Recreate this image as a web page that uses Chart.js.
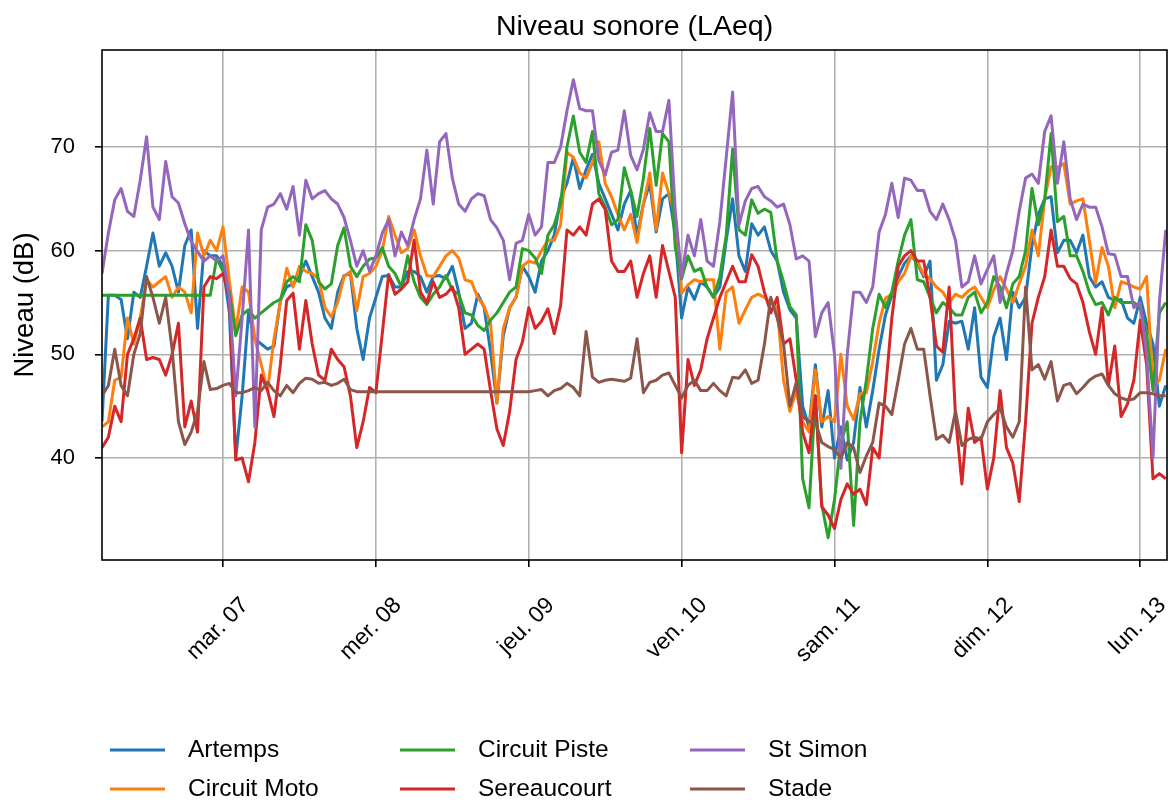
<!DOCTYPE html>
<html lang="fr">
<head>
<meta charset="UTF-8">
<title>Niveau sonore (LAeq)</title>
<script src="https://cdn.jsdelivr.net/npm/chart.js@4.4.1/dist/chart.umd.min.js"></script>
<style>
    body {
        margin: 0;
        background: #fff;
    }

    #wrap {
        width: 1170px;
        height: 803px;
    }
</style>
</head>
<body>
<div id="wrap"><canvas id="niveauChart" width="1170" height="803"></canvas></div>

<script>
    // heures comptées depuis lun. 06 00:00, un point par heure à partir de startHour
    const startHour = 5;
    const dayTicks = [24, 48, 72, 96, 120, 144, 168];
    const dayLabels = ['mar. 07', 'mer. 08', 'jeu. 09', 'ven. 10', 'sam. 11', 'dim. 12', 'lun. 13'];
    const yTicks = [40, 50, 60, 70];

    const seriesNames = ['Artemps', 'Circuit Moto', 'Circuit Piste', 'Sereaucourt', 'St Simon', 'Stade'];
    const seriesColors = ['#1f77b4', '#ff7f0e', '#2ca02c', '#d62728', '#9467bd', '#8c564b'];

    const artemps = [
        43.5, 55.7, 55.7, 55.3, 51.5, 56.0, 55.5, 58.5, 61.7, 58.5,
        59.8, 58.5, 56, 60.5, 62, 52.5, 60, 59.5, 59.5, 58.5,
        54, 40, 46, 54, 51.5, 51, 50.5, 50.8, 55.2, 56.5,
        56.8, 57.5, 59, 57.5, 56, 53.5, 52.5, 56, 57.6, 57.8,
        52.5, 49.5, 53.5, 55.5, 57.5, 57.6, 56.5, 56.5, 58, 58,
        57.5, 56, 57.5, 57.6, 57.3, 58.5, 56, 52.5, 53, 55.8,
        54.5, 50.3, 45.3, 51.8, 54.5, 55.5, 58.5, 57.5, 56, 59,
        60, 61.5, 65, 66.5, 69, 66, 67.8, 69.3, 66.5, 65,
        63.5, 62, 64.5, 65.8, 61.5, 64.5, 66.5, 61.8, 65, 65.5,
        61.5, 53.5, 56.5, 55.3, 57, 56.5, 55.5, 56.5, 61, 65,
        59.5, 58, 62.6, 61.5, 62.3, 60, 59, 56, 54.3, 53.5,
        45, 43, 49, 43, 46.5, 40, 43, 39.8, 41.5, 46.8,
        43, 46.5, 50.5, 53.8, 55.7, 57.5, 58.8, 59.5, 58.8, 57.5,
        59, 47.5, 49, 53.2, 53, 53.2, 50.5, 54.5, 47.8, 46.8,
        51.7, 53.5, 49.5, 56, 54.5, 55.5, 60.5, 63.5, 65, 65.2,
        59.8, 61, 61, 59.8, 61.5, 57.5, 56.5, 57, 55.5, 55.2,
        55.3, 53.5, 53, 55.5, 53, 51, 45, 47
    ];

    const circuitMoto = [
        43, 43.5, 47.5, 47.8, 53.5, 51, 53.5, 57.2, 56.5, 57,
        57.5, 55.5, 56.5, 56, 54, 61.7, 59.5, 61, 60, 62.3,
        57, 52.3, 56.5, 56, 51.5, 49, 46.5, 51.5, 55, 58.3,
        56.5, 58.5, 58, 57.8, 57.3, 54.5, 53.6, 55, 57.5, 58,
        54.2, 57.5, 57.8, 58.5, 60, 63.3, 61.5, 59.8, 60.2, 62,
        59.5, 57.6, 57.5, 58.5, 59.5, 60, 59.3, 57.2, 57, 55.5,
        54.6, 53, 45.3, 52.5, 54.5, 55.5, 58.5, 59, 58.8, 60,
        61, 61, 62.5, 69.5, 69, 67.5, 67, 68.5, 70.5, 66.5,
        65.2, 63.5, 62, 63.5, 60.8, 64.5, 67.5, 62, 67.5, 65.5,
        63.5, 55.9, 56.7, 57.2, 57, 57.2, 57.2, 50.5, 56, 56.5,
        53, 54.3, 55.5, 55.8, 55.5, 55, 54.5, 47.5, 44.5, 46.5,
        43.5, 42.5, 48.5, 43.5, 44, 43.5, 50, 45, 43.7, 46.2,
        46.3, 49.3, 53, 55.4, 55.8, 57, 57.8, 59.5, 59, 57.7,
        57.3, 56.5, 56, 55, 55.8, 55.5, 56.1, 56.5, 55.5, 54.5,
        56.2, 57.5, 56.3, 55, 56.8, 58.5, 62, 59.5, 65, 68.1,
        68, 68.4, 64.5, 64.8, 65, 61, 56.9, 60.3, 58.5, 54.5,
        57, 56.8, 56.5, 56.3, 57.5, 47, 47.5, 50.5
    ];

    const circuitPiste = [
        55.7, 55.7, 55.7, 55.7, 55.7, 55.7, 55.7, 55.7, 55.7, 55.7,
        55.7, 55.7, 55.7, 55.7, 55.7, 55.7, 55.7, 55.7,
        59.3, 58, 56, 51.8, 53.8, 54.3, 53.5, 54, 54.5, 55,
        55.3, 57, 57.5, 57, 62.5, 61, 57, 56.3, 56.8, 60.5,
        62.2, 58.5, 57.5, 58.5, 59.2, 59.3, 60.3, 58.5, 57.8, 56.5,
        59.5, 57, 55.5, 54.8, 55.8, 56.5, 57.6, 56.2, 55.8, 54,
        53.8, 52.8, 52.3, 53.3, 54, 55, 56, 56.5, 60.2, 60,
        59.3, 57.8, 61.5, 62.5, 64.5, 70, 73, 69.5, 68.5, 71.5,
        65.5, 64.2, 62.5, 63, 68, 65.8, 63.3, 67, 71.8, 66.3,
        71.3, 70.5, 60.3, 57.3, 59.5, 58, 58.3, 56.5, 55.5, 57.5,
        61.5, 69.8, 62, 61.5, 64.9, 63.6, 64, 63.7, 59, 57,
        54.6, 53.8, 38, 35.2, 46, 35.5, 32.3, 36, 41.5, 43.5,
        33.5, 43.5, 47.5, 52.5, 55.8, 54.5, 56, 59, 61.5, 63,
        57.2, 57, 55.5, 54, 55, 54.5, 53.8, 53.8, 55.5, 56,
        54, 55, 57.5, 56.5, 54.5, 56.8, 57.5, 60, 66, 62.5,
        65, 71.3, 62.8, 63.3, 59.5, 59.5, 58, 56, 54.8, 55,
        53.8, 55.5, 55, 55, 55, 54.5, 52, 46.5, 54, 55
    ];

    const sereaucourt = [
        41, 42, 45, 43.5, 50, 51.5, 53.5, 49.5, 49.7, 49.5,
        48, 50, 53, 43, 45.5, 42.5, 56.5, 57.5, 57.3, 57.8,
        55.5, 39.8, 40, 37.7, 41.5, 48, 46.5, 44, 49, 55.2,
        55.9, 50.5, 55.2, 51, 48, 47.5, 50.5, 49.5, 48.8, 46,
        41, 43.5, 46.8, 46.3, 52, 57.7, 55.8, 56.3, 57, 61,
        56, 55, 57, 55.5, 55.8, 56.5, 54.5, 50, 50.5, 51,
        50.5, 46.5, 42.8, 41.2, 44.5, 49.5, 51.2, 54.5, 52.5, 53.2,
        54.4, 52, 54.7, 62, 61.5, 62.3, 61.5, 64.5, 65, 64,
        59, 58, 58, 59, 55.5, 57.8, 59.5, 55.5, 60.5, 58,
        55.5, 40.5, 49.5, 47, 48.5, 51.5, 53.5, 55.5, 57, 58.5,
        57, 57, 59.6, 58.5, 56, 54, 55.5, 51, 51.5, 47.5,
        42.5, 40.5, 46, 35.3, 34.5, 33.2, 36, 37.5, 36.5, 37,
        35.5, 41, 40, 46.5, 53.5, 58.5, 59.5, 60, 59, 59,
        55.5, 50.8, 50.2, 56.5, 44, 37.5, 44.8, 41.5, 42, 37,
        40, 46.5, 41, 39.5, 35.8, 43.5, 53, 55.5, 57.5, 62,
        58.5, 58.5, 57.3, 56.8, 55, 52.2, 50, 54.5, 47, 50.8,
        44, 45.2, 47.5, 53.3, 49, 38, 38.5, 38
    ];

    const stSimon = [
        57.8, 61.7, 64.9, 66, 63.8, 63.3, 66.8, 71, 64.2, 63,
        68.6, 65.2, 64.6, 62.6, 60.9, 59.9, 59, 59.5, 59, 59.5,
        55.5, 46, 53.5, 62, 43, 62, 64.2, 64.5, 65.5, 64,
        66.2, 61.5, 66.8, 65, 65.5, 65.8, 65, 64.5, 63.2, 61,
        58.5, 60, 58, 59.5, 61.7, 63, 59.5, 61.8, 60.5, 63,
        65, 69.7, 64.5, 70.5, 71.3, 67, 64.5, 63.8, 65, 65.5,
        65.3, 63, 62.2, 61, 57.2, 60.7, 61, 63.5, 61.5, 62.3,
        68.5, 68.5, 70, 73.5, 76.5, 73.7, 73.5, 73.5, 68.7, 67.3,
        69.5, 69.7, 73.5, 69.2, 67.8, 69.8, 73.3, 71.5, 71.5, 74.5,
        63.8, 57.5, 61.5, 59.5, 63, 59, 58.5, 62.8, 69, 75.3,
        62.5, 64.8, 66, 66.2, 65.2, 64.8, 64.2, 64.5, 62.5, 59.2,
        59.5, 59, 51.7, 54, 55, 50, 39, 50, 56, 56,
        55, 56.5, 61.8, 63.5, 66.5, 63.2, 67, 66.8, 65.8, 65.8,
        63.8, 63, 64.5, 63, 61, 56.5, 57, 59.5, 56.8, 58.2,
        59.5, 55, 57.8, 60, 63.8, 67, 67.4, 66.5, 71.5, 73,
        66.5, 70.5, 65, 63, 64.5, 64.2, 64.2, 62.3, 59.7, 59.6,
        57.5, 57.5, 54.5, 55, 50, 40, 55, 62
    ];

    const stade = [
        46, 47, 50.5, 47, 46, 50, 52, 57.5, 55.5, 53,
        55.5, 50.5, 43.5, 41.3, 42.5, 44.5, 49.3, 46.6, 46.7, 47,
        47.2, 46.3, 46.3, 46.5, 46.8, 46.5, 47.3, 46.5, 46, 47,
        46.3, 47.2, 47.7, 47.6, 47.2, 47.3, 47, 47.2, 47.6, 46.6,
        46.4, 46.4, 46.4, 46.4, 46.4, 46.4, 46.4, 46.4, 46.4, 46.4,
        46.4, 46.4, 46.4, 46.4, 46.4, 46.4, 46.4, 46.4, 46.4, 46.4,
        46.4, 46.4, 46.4, 46.4, 46.4, 46.4, 46.4, 46.4,
        46.5, 46.6, 46, 46.5, 46.7, 47.2, 46.8, 46, 52.2, 47.8,
        47.3, 47.5, 47.6, 47.5, 47.4, 47.7, 51.5, 46.3, 47.3, 47.5,
        48, 48.2, 47, 45.8, 47, 47.5, 46.5, 46.5, 47.2, 46.5,
        46, 47.8, 47.7, 48.5, 47.2, 47.5, 51, 55.5, 53.5, 51,
        45, 47.3, 44, 43.5, 43.5, 41.5, 41.1, 40.8, 40, 41.5,
        41, 38.6, 40.2, 41.5, 45.3, 45, 44.2, 47.5, 51, 52.5,
        50.5, 50.5, 46, 41.8, 42.2, 41.5, 44.5, 41.2, 41.8, 42,
        41.8, 43.5, 44.2, 44.8, 43, 42, 43.5, 56.5, 48.5, 49,
        47.6, 49.3, 45.5, 47, 47.2, 46.2, 46.8, 47.5, 47.9, 48.1,
        47, 46.2, 45.8, 45.6, 45.7, 46.3, 46.3, 46.2, 46, 46
    ];

    const seriesValues = [artemps, circuitMoto, circuitPiste, sereaucourt, stSimon, stade];

    const FONT = "'Liberation Sans', Arial, sans-serif";

    function toPoints(values) {
        return values.map((v, i) => ({x: startHour + i, y: v}));
    }

    // cadre noir autour de la zone de tracé
    const framePlugin = {
        id: 'frame',
        afterDatasetsDraw(chart) {
            const {ctx, chartArea: a} = chart;
            ctx.save();
            ctx.strokeStyle = '#000';
            ctx.lineWidth = 1.6;
            ctx.strokeRect(a.left, a.top, a.right - a.left, a.bottom - a.top);
            ctx.restore();
        }
    };

    // légende en 3 colonnes, remplie colonne par colonne
    const legendPlugin = {
        id: 'legendGrid',
        afterDraw(chart) {
            const ctx = chart.ctx;
            const colX = [110, 400, 690];
            const rowY = [750, 789];
            ctx.save();
            ctx.font = '24.5px ' + FONT;
            ctx.textBaseline = 'middle';
            ctx.fillStyle = '#000';
            chart.data.datasets.forEach((ds, i) => {
                const x = colX[Math.floor(i / 2)];
                const y = rowY[i % 2];
                ctx.strokeStyle = ds.borderColor;
                ctx.lineWidth = 3;
                ctx.beginPath();
                ctx.moveTo(x, y);
                ctx.lineTo(x + 55, y);
                ctx.stroke();
                ctx.fillText(ds.label, x + 78, y);
            });
            ctx.restore();
        }
    };

    const datasets = seriesNames.map((name, i) => ({
        label: name,
        data: toPoints(seriesValues[i]),
        borderColor: seriesColors[i],
        backgroundColor: seriesColors[i],
        borderWidth: 3,
        borderJoinStyle: 'round',
        pointRadius: 0,
        tension: 0,
        fill: false,
        order: seriesNames.length - i
    }));

    const gridStyle = {
        color: '#b0b0b0',
        lineWidth: 1.6,
        tickLength: 7,
        tickColor: '#000',
        tickWidth: 1.6
    };

    new Chart(document.getElementById('niveauChart').getContext('2d'), {
        type: 'line',
        data: {datasets: datasets},
        options: {
            responsive: false,
            devicePixelRatio: 1,
            animation: false,
            layout: {padding: {left: 0, right: 3, top: 0, bottom: 110}},
            plugins: {
                legend: {display: false},
                tooltip: {enabled: false},
                title: {
                    display: true,
                    text: 'Niveau sonore (LAeq)',
                    fullSize: false,
                    color: '#000',
                    font: {family: FONT, size: 28.5, weight: 'normal'},
                    padding: {top: 10, bottom: 5.8}
                }
            },
            scales: {
                x: {
                    type: 'linear',
                    min: 5,
                    max: 172.2,
                    afterBuildTicks: s => { s.ticks = dayTicks.map(v => ({value: v})); },
                    afterFit: s => {
                        s.height = 133;
                        s.paddingLeft = 0;
                        s.paddingRight = 0;
                    },
                    grid: gridStyle,
                    border: {display: false},
                    ticks: {
                        autoSkip: false,
                        minRotation: 45,
                        maxRotation: 45,
                        padding: 25,
                        labelOffset: 22,
                        color: '#000',
                        font: {family: FONT, size: 23},
                        callback: v => {
                            const k = dayTicks.indexOf(v);
                            return k >= 0 ? dayLabels[k] : '';
                        }
                    }
                },
                y: {
                    min: 30.16,
                    max: 79.36,
                    afterBuildTicks: s => { s.ticks = yTicks.map(v => ({value: v})); },
                    afterFit: s => {
                        s.width = 102;
                        s.paddingTop = 0;
                        s.paddingBottom = 0;
                    },
                    grid: gridStyle,
                    border: {display: false},
                    ticks: {
                        padding: 20,
                        color: '#000',
                        font: {family: FONT, size: 22}
                    },
                    title: {
                        display: true,
                        text: 'Niveau (dB)',
                        color: '#000',
                        font: {family: FONT, size: 27.5},
                        padding: {top: 8.5, bottom: 0}
                    }
                }
            }
        },
        plugins: [framePlugin, legendPlugin]
    });
</script>
</body>
</html>
